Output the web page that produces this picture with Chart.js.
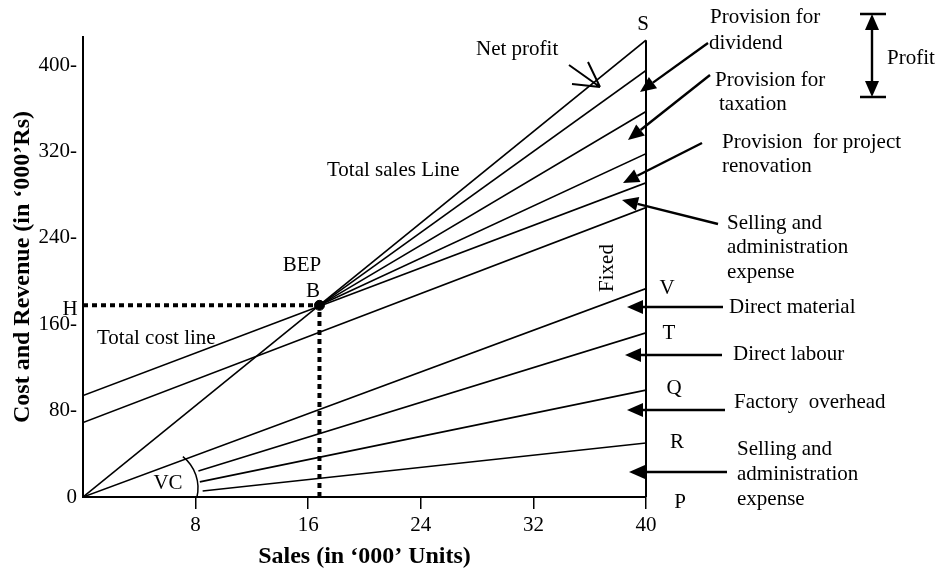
<!DOCTYPE html>
<html>
<head>
<meta charset="utf-8">
<script src="https://cdn.jsdelivr.net/npm/chart.js@4.4.0/dist/chart.umd.min.js"></script>
<style>
  html, body { margin: 0; padding: 0; background: #fff; }
</style>
</head>
<body>
<canvas id="bep-chart" width="940" height="573"></canvas>
<script>
// break-even chart: sales in '000 units (x), cost and revenue in '000 Rs (y)
const lineNames = [
  'Total sales', 'Provision for dividend', 'Provision for taxation',
  'Provision for project renovation', 'Total cost', 'Selling and administration (fixed)',
  'Direct material', 'Direct labour', 'Factory overhead', 'Selling and administration (variable)'
];
const startX = [0, 16.8, 16.8, 16.8, 0, 0, 0, 8.2, 8.3, 8.5];
const startY = [0, 177.5, 177.5, 177.5, 94, 69, 0, 24, 14, 5.5];
const endX = [40, 40, 40, 40, 40, 40, 40, 40, 40, 40];
const endY = [423, 395, 357, 318, 291, 268, 193, 152, 99, 50];

const bepX = 16.8;      // break-even point B
const bepY = 177.5;
const fixedTop = 423;   // top of the "Fixed" line at 40

const xTicks = [8, 16, 24, 32, 40];
const yTicks = [0, 80, 160, 240, 320, 400];

const serif = '"Liberation Serif", "Times New Roman", serif';

const datasets = lineNames.map(function (name, i) {
  return {
    label: name,
    data: [{ x: startX[i], y: startY[i] }, { x: endX[i], y: endY[i] }],
    showLine: true,
    borderColor: '#000',
    borderWidth: 1.6,
    pointRadius: 0
  };
});

datasets.push({
  label: 'Fixed',
  data: [{ x: 40, y: 0 }, { x: 40, y: fixedTop }],
  showLine: true, borderColor: '#000', borderWidth: 2, pointRadius: 0, clip: false
});
datasets.push({
  label: 'H',
  data: [{ x: 0, y: bepY }, { x: bepX, y: bepY }],
  showLine: true, borderColor: '#000', borderWidth: 4, borderDash: [5, 4], pointRadius: 0
});
datasets.push({
  label: 'BEP drop',
  data: [{ x: bepX, y: 0 }, { x: bepX, y: bepY }],
  showLine: true, borderColor: '#000', borderWidth: 4, borderDash: [5, 4], pointRadius: 0
});
datasets.push({
  label: 'BEP',
  data: [{ x: bepX, y: bepY }],
  showLine: false, pointRadius: 5, pointBackgroundColor: '#000', pointBorderColor: '#000'
});

// text and pointers around the plot
const notes = [
  ['S', 643, 24, 'center'],
  ['Net profit', 476, 49],
  ['Provision for', 710, 17], ['dividend', 709, 43],
  ['Profit', 887, 58],
  ['Provision for', 715, 80], ['taxation', 719, 104],
  ['Provision  for project', 722, 142], ['renovation', 722, 166],
  ['Total sales Line', 327, 170],
  ['Selling and', 727, 223], ['administration', 727, 247], ['expense', 727, 272],
  ['V', 667, 288, 'center'],
  ['Direct material', 729, 307],
  ['T', 669, 333, 'center'],
  ['Direct labour', 733, 354],
  ['Q', 674, 388, 'center'],
  ['Factory  overhead', 734, 402],
  ['R', 677, 442, 'center'],
  ['Selling and', 737, 449], ['administration', 737, 474], ['expense', 737, 499],
  ['P', 680, 502, 'center'],
  ['BEP', 302, 265, 'center'], ['B', 313, 291, 'center'],
  ['H', 70, 309, 'center'],
  ['Total cost line', 97, 338],
  ['VC', 168, 483, 'center']
];
const pointers = [
  [708, 43, 640, 92],
  [710, 75, 628, 140],
  [702, 143, 623, 183],
  [718, 224, 622, 200],
  [723, 307, 627, 307],
  [722, 355, 625, 355],
  [725, 410, 627, 410],
  [727, 472, 629, 472]
];

function arrowHead(ctx, x1, y1, x2, y2) {
  const a = Math.atan2(y2 - y1, x2 - x1);
  const len = 16, half = 7;
  const bx = x2 - len * Math.cos(a), by = y2 - len * Math.sin(a);
  ctx.beginPath();
  ctx.moveTo(x2, y2);
  ctx.lineTo(bx + half * Math.sin(a), by - half * Math.cos(a));
  ctx.lineTo(bx - half * Math.sin(a), by + half * Math.cos(a));
  ctx.closePath();
  ctx.fill();
  return [bx, by];
}

function arrow(ctx, x1, y1, x2, y2) {
  const b = arrowHead(ctx, x1, y1, x2, y2);
  ctx.beginPath();
  ctx.moveTo(x1, y1);
  ctx.lineTo(b[0], b[1]);
  ctx.stroke();
}

const notesPlugin = {
  id: 'notes',
  afterDraw: function (chart) {
    const ctx = chart.ctx;
    ctx.save();
    ctx.fillStyle = '#000';
    ctx.strokeStyle = '#000';
    ctx.font = '21px ' + serif;
    ctx.textBaseline = 'middle';
    notes.forEach(function (n) {
      ctx.textAlign = n[3] || 'left';
      ctx.fillText(n[0], n[1], n[2]);
    });

    // rotated "Fixed"
    ctx.save();
    ctx.translate(607, 268);
    ctx.rotate(-Math.PI / 2);
    ctx.textAlign = 'center';
    ctx.fillText('Fixed', 0, 0);
    ctx.restore();

    ctx.lineWidth = 2.4;
    pointers.forEach(function (p) { arrow(ctx, p[0], p[1], p[2], p[3]); });

    // profit double arrow with caps
    arrowHead(ctx, 872, 55, 872, 14);
    arrowHead(ctx, 872, 55, 872, 97);
    ctx.beginPath();
    ctx.moveTo(872, 28); ctx.lineTo(872, 83);
    ctx.moveTo(860, 14); ctx.lineTo(886, 14);
    ctx.moveTo(860, 97); ctx.lineTo(886, 97);
    ctx.stroke();

    // net profit open arrow
    ctx.lineWidth = 2;
    ctx.beginPath();
    ctx.moveTo(569, 65); ctx.lineTo(600, 87);
    ctx.moveTo(588, 62); ctx.lineTo(600, 87);
    ctx.moveTo(572, 84); ctx.lineTo(600, 87);
    ctx.stroke();

    // VC arc
    ctx.lineWidth = 1.5;
    ctx.beginPath();
    ctx.arc(158, 488, 40, -0.9, 0.24);
    ctx.stroke();
    ctx.restore();
  }
};

const config = {
  type: 'scatter',
  data: { datasets: datasets },
  options: {
    responsive: false,
    animation: false,
    devicePixelRatio: 1,
    layout: { padding: { top: 37, right: 294, left: 0, bottom: 0 } },
    plugins: {
      legend: { display: false },
      tooltip: { enabled: false }
    },
    scales: {
      x: {
        type: 'linear', min: 0, max: 40,
        afterBuildTicks: function (s) { s.ticks = xTicks.map(function (v) { return { value: v }; }); },
        afterFit: function (s) { s.height = 76; },
        grid: { drawOnChartArea: false, drawTicks: true, tickLength: 12, color: '#000', lineWidth: 1.5 },
        border: { display: true, color: '#000', width: 2 },
        ticks: {
          color: '#000', padding: 4, maxRotation: 0, autoSkip: false,
          font: { family: serif, size: 21 }
        },
        title: {
          display: true, text: 'Sales (in ‘000’ Units)', color: '#000',
          font: { family: serif, size: 24, weight: 'bold' },
          padding: { top: 0, bottom: 2 }
        }
      },
      y: {
        type: 'linear', min: 0, max: 426,
        afterBuildTicks: function (s) { s.ticks = yTicks.map(function (v) { return { value: v }; }); },
        afterFit: function (s) { s.width = 83; },
        grid: { display: false, drawTicks: false },
        border: { display: true, color: '#000', width: 2 },
        ticks: {
          color: '#000', padding: 6,
          font: { family: serif, size: 21 },
          callback: function (v) { return v === 0 ? '0' : v + '-'; }
        },
        title: {
          display: true, text: 'Cost and Revenue (in ‘000’Rs)', color: '#000',
          font: { family: serif, size: 24, weight: 'bold' },
          padding: { top: 8, bottom: 0 }
        }
      }
    }
  },
  plugins: [notesPlugin]
};

new Chart(document.getElementById('bep-chart'), config);
</script>
</body>
</html>
